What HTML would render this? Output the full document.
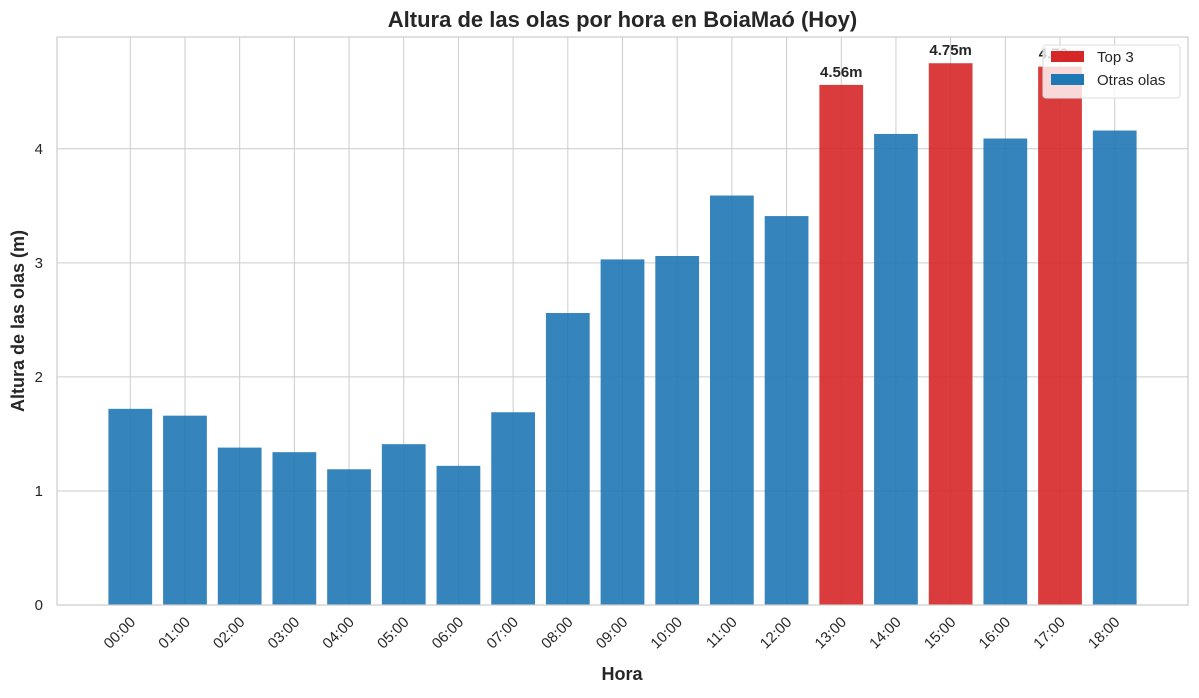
<!DOCTYPE html>
<html><head><meta charset="utf-8"><style>
body{margin:0;background:#fff;font-family:"Liberation Sans","DejaVu Sans",sans-serif}
</style></head><body>
<svg id="c" width="1199" height="693" xmlns="http://www.w3.org/2000/svg"></svg>
<script>
const categories=["00:00","01:00","02:00","03:00","04:00","05:00","06:00","07:00","08:00","09:00","10:00","11:00","12:00","13:00","14:00","15:00","16:00","17:00","18:00"];
const heights=[1.72,1.66,1.38,1.34,1.19,1.41,1.22,1.69,2.56,3.03,3.06,3.59,3.41,4.56,4.13,4.75,4.09,4.72,4.16];
const yTicks=[0,1,2,3,4];
const L=57,R=1188,T=37,B=605;
const xmin=-1.34,xmax=18.34+1;
const ymax=4.98;
const sx=v=>L+(v-xmin)/(xmax-xmin)*(R-L);
const sy=v=>B-v/ymax*(B-T);
const svg=document.getElementById('c');
const NS='http://www.w3.org/2000/svg';
function mk(t,a,p){const e=document.createElementNS(NS,t);for(const k in a)e.setAttribute(k,a[k]);(p||svg).appendChild(e);return e;}
const top3=heights.map((v,i)=>i).sort((a,b)=>heights[b]-heights[a]).slice(0,3);
// grid
categories.forEach((c,i)=>{const g=mk('line',{x1:sx(i),x2:sx(i),y1:T,y2:B,stroke:'#cccccc','stroke-width':1});
});
yTicks.forEach(v=>{const g=mk('line',{x1:L,x2:R,y1:sy(v),y2:sy(v),stroke:'#cccccc','stroke-width':1});

const t=mk('text',{x:L-14,y:sy(v)+5,'text-anchor':'end','font-size':15,fill:'#262626'});t.textContent=v;
});
// bars
const bw=0.8*(sx(1)-sx(0));
heights.forEach((v,i)=>{const isTop=top3.includes(i);
const r=mk('rect',{x:sx(i)-bw/2,y:sy(v),width:bw,height:B-sy(v),fill:isTop?'#d62728':'#1f77b4','fill-opacity':0.9});

if(isTop){const t=mk('text',{x:sx(i),y:sy(v)-8,'text-anchor':'middle','font-size':15,'font-weight':'bold',fill:'#262626'});t.textContent=v.toFixed(2)+'m';
}
const t=mk('text',{x:0,y:0,'text-anchor':'end','font-size':15,fill:'#262626',transform:`translate(${sx(i)+6},${B+18}) rotate(-45)`});t.textContent=categories[i];
});
// frame
const f=mk('rect',{x:L,y:T,width:R-L,height:B-T,fill:'none',stroke:'#cccccc','stroke-width':1.2});

// titles
let t=mk('text',{x:(L+R)/2,y:27,'text-anchor':'middle','font-size':22,'font-weight':'bold',fill:'#262626'});t.textContent='Altura de las olas por hora en BoiaMaó (Hoy)';

t=mk('text',{x:622,y:680,'text-anchor':'middle','font-size':18,'font-weight':'bold',fill:'#262626'});t.textContent='Hora';

t=mk('text',{x:0,y:0,'text-anchor':'middle','font-size':18,'font-weight':'bold',fill:'#262626',transform:'translate(24,321) rotate(-90)'});t.textContent='Altura de las olas (m)';

// legend
const lg=mk('g',{});
mk('rect',{x:1043,y:45,width:137,height:53,rx:3,fill:'#ffffff','fill-opacity':0.8,stroke:'#dddddd'},lg);
[['Top 3','#d62728',62],['Otras olas','#1f77b4',85]].forEach(([n,c,y])=>{
const e=mk('g',{},lg);
mk('rect',{x:1051,y:y-11,width:33,height:11,fill:c},e);
const tx=mk('text',{x:1097,y:y,'font-size':15,fill:'#262626'},e);tx.textContent=n;});
</script>
</body></html>
